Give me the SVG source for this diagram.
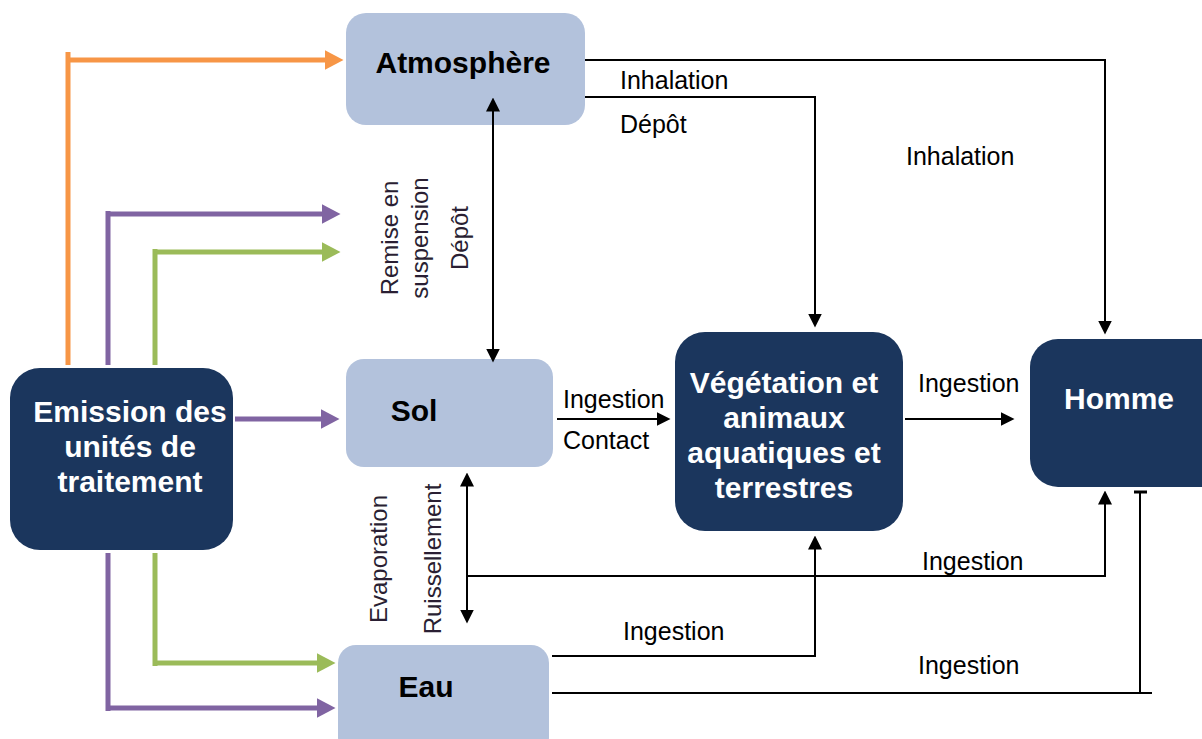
<svg xmlns="http://www.w3.org/2000/svg" width="1202" height="739" viewBox="0 0 1202 739">
<style>
.light{fill:#b3c2dc}
.dark{fill:#1b365d}
.nl{font-family:"Liberation Sans",Arial,sans-serif;font-weight:bold;font-size:30px;text-anchor:middle}
.nlb{fill:#000}
.nlw{fill:#fff}
.lbl{font-family:"Liberation Sans",Arial,sans-serif;font-size:25px;fill:#000}
.vl{font-family:"Liberation Sans",Arial,sans-serif;font-size:24px;fill:#2a1f33;text-anchor:middle}
.k{fill:none;stroke:#000;stroke-width:2}
.c{fill:none;stroke-width:5}
.or{stroke:#f79646}
.pu{stroke:#8064a2}
.gr{stroke:#9bbb59}
</style>
<defs>
<marker id="aO" viewBox="0 -10 19 20" refX="0.5" refY="0" markerWidth="19" markerHeight="20" orient="auto" markerUnits="userSpaceOnUse"><path d="M0,-10 L19,0 L0,10 z" fill="#f79646"/></marker>
<marker id="aP" viewBox="0 -10 19 20" refX="0.5" refY="0" markerWidth="19" markerHeight="20" orient="auto" markerUnits="userSpaceOnUse"><path d="M0,-10 L19,0 L0,10 z" fill="#8064a2"/></marker>
<marker id="aG" viewBox="0 -10 19 20" refX="0.5" refY="0" markerWidth="19" markerHeight="20" orient="auto" markerUnits="userSpaceOnUse"><path d="M0,-10 L19,0 L0,10 z" fill="#9bbb59"/></marker>
<marker id="aK" viewBox="0 -7 14 14" refX="0.5" refY="0" markerWidth="14" markerHeight="14" orient="auto-start-reverse" markerUnits="userSpaceOnUse"><path d="M0,-7 L14,0 L0,7 z" fill="#000"/></marker>
</defs>

<g id="node-atmosphere">
<rect class="light" x="346" y="13" width="239" height="112" rx="20"/>
<text class="nl nlb" x="463" y="73">Atmosphère</text>
</g>
<g id="node-sol">
<rect class="light" x="346" y="359" width="207" height="108" rx="18"/>
<text class="nl nlb" x="414" y="421">Sol</text>
</g>
<g id="node-eau">
<rect class="light" x="338" y="645" width="211" height="110" rx="18"/>
<text class="nl nlb" x="426" y="697">Eau</text>
</g>
<g id="node-emission">
<rect class="dark" x="10" y="368" width="223" height="182" rx="30"/>
<text class="nl nlw" x="130" y="422">Emission des</text>
<text class="nl nlw" x="130" y="457">unités de</text>
<text class="nl nlw" x="130" y="492">traitement</text>
</g>
<g id="node-vegetation">
<rect class="dark" x="675" y="332" width="228" height="199" rx="30"/>
<text class="nl nlw" x="784" y="393">Végétation et</text>
<text class="nl nlw" x="784" y="428">animaux</text>
<text class="nl nlw" x="784" y="463">aquatiques et</text>
<text class="nl nlw" x="784" y="498">terrestres</text>
</g>
<g id="node-homme">
<rect class="dark" x="1030" y="339" width="200" height="148" rx="28"/>
<text class="nl nlw" x="1119" y="409">Homme</text>
</g>

<g id="connectors">
<path class="c or" d="M68,365 V52"/>
<path class="c or" d="M66,60 H325" marker-end="url(#aO)"/>
<path class="c pu" d="M108,365 V211"/>
<path class="c pu" d="M106,214 H322" marker-end="url(#aP)"/>
<path class="c gr" d="M155,365 V249"/>
<path class="c gr" d="M153,252 H322" marker-end="url(#aG)"/>
<path class="c pu" d="M235,419 H321" marker-end="url(#aP)"/>
<path class="c gr" d="M155,553 V666"/>
<path class="c gr" d="M153,663 H317" marker-end="url(#aG)"/>
<path class="c pu" d="M108,553 V711"/>
<path class="c pu" d="M106,708 H317" marker-end="url(#aP)"/>

<path class="k" d="M493,111 V349" marker-start="url(#aK)" marker-end="url(#aK)"/>
<path class="k" d="M585,60 H1105 V321" marker-end="url(#aK)"/>
<path class="k" d="M585,97 H815 V314" marker-end="url(#aK)"/>
<path class="k" d="M557,419 H657" marker-end="url(#aK)"/>
<path class="k" d="M905,419 H1001" marker-end="url(#aK)"/>
<path class="k" d="M467,486 V610" marker-start="url(#aK)" marker-end="url(#aK)"/>
<path class="k" d="M467,576 H1105 V504" marker-end="url(#aK)"/>
<path class="k" d="M552,656 H815 V549" marker-end="url(#aK)"/>
<path class="k" d="M552,693 H1152"/>
<path class="k" d="M1140,693 V492"/>
<path d="M1134,492 H1147" stroke="#000" stroke-width="3"/>
</g>

<g id="labels">
<text class="lbl" x="620" y="89">Inhalation</text>
<text class="lbl" x="620" y="133">Dépôt</text>
<text class="lbl" x="906" y="165">Inhalation</text>
<text class="lbl" x="563" y="408">Ingestion</text>
<text class="lbl" x="563" y="449">Contact</text>
<text class="lbl" x="918" y="392">Ingestion</text>
<text class="lbl" x="922" y="570">Ingestion</text>
<text class="lbl" x="623" y="640">Ingestion</text>
<text class="lbl" x="918" y="674">Ingestion</text>
<text class="vl" transform="translate(398,238) rotate(-90)">Remise en</text>
<text class="vl" transform="translate(428,238) rotate(-90)">suspension</text>
<text class="vl" transform="translate(468,238) rotate(-90)">Dépôt</text>
<text class="vl" transform="translate(387,559) rotate(-90)">Evaporation</text>
<text class="vl" transform="translate(441,559) rotate(-90)">Ruissellement</text>
</g>
</svg>
